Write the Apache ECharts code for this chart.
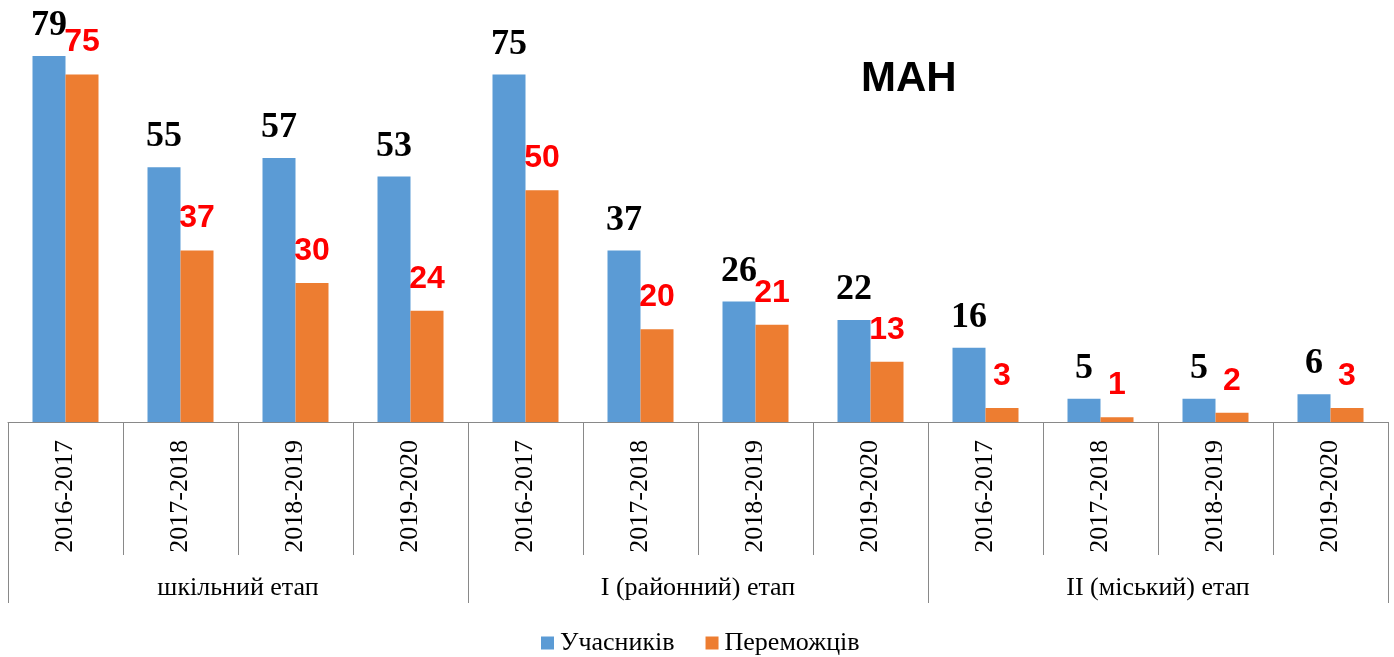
<!DOCTYPE html>
<html>
<head>
<meta charset="utf-8">
<script src="https://cdn.jsdelivr.net/npm/echarts@6/dist/echarts.min.js"></script>
<style>
  html, body { margin: 0; padding: 0; background: #fff; }
  #chart { width: 1394px; height: 657px; }
</style>
</head>
<body>
<div id="chart"></div>
<script>
// роки і етапи
var years = ['2016-2017', '2017-2018', '2018-2019', '2019-2020',
             '2016-2017', '2017-2018', '2018-2019', '2019-2020',
             '2016-2017', '2017-2018', '2018-2019', '2019-2020'];
var stages = ['шкільний етап', 'I (районний) етап', 'II (міський) етап'];
var uchasnykiv = [79, 55, 57, 53, 75, 37, 26, 22, 16, 5, 5, 6];
var peremozhtsiv = [75, 37, 30, 24, 50, 20, 21, 13, 3, 1, 2, 3];

var myChart = echarts.init(document.getElementById('chart'));
var option = {
    backgroundColor: '#fff',
    animation: false,
    title: {
        text: 'МАН',
        left: 861,
        top: 58,
        padding: 0,
        textStyle: {
            fontFamily: 'Liberation Sans',
            fontWeight: 'bold',
            fontSize: 42,
            color: '#000'
        }
    },
    legend: {
        top: 625,
        left: 536,
        itemWidth: 13,
        itemHeight: 13,
        itemGap: 31,
        icon: 'rect',
        data: ['Учасників', 'Переможців'],
        textStyle: {
            fontFamily: 'Liberation Serif',
            fontSize: 26,
            color: '#000',
            padding: [0, 0, 0, 1]
        }
    },
    grid: { left: 8, right: 6, top: 5, bottom: 235 },
    xAxis: [
        {
            type: 'category',
            data: years,
            axisLine: { show: true, lineStyle: { color: '#898989', width: 1 } },
            axisTick: { show: true, interval: 0, length: 133, lineStyle: { color: '#898989', width: 1 } },
            axisLabel: {
                interval: 0,
                rotate: 90,
                margin: 18,
                fontFamily: 'Liberation Serif',
                fontSize: 26,
                color: '#000'
            }
        },
        {
            type: 'category',
            data: stages,
            position: 'bottom',
            offset: 133,
            axisLine: { show: false },
            axisTick: { show: true, interval: 0, length: 48, lineStyle: { color: '#898989', width: 1 } },
            axisLabel: {
                interval: 0,
                margin: 20,
                fontFamily: 'Liberation Serif',
                fontSize: 26,
                color: '#000'
            }
        }
    ],
    yAxis: {
        type: 'value',
        min: 0,
        max: 90,
        show: false,
        splitLine: { show: false }
    },
    series: [
        {
            name: 'Учасників',
            type: 'bar',
            data: uchasnykiv,
            barWidth: 33,
            barGap: '0%',
            itemStyle: { color: '#5B9BD5' },
            label: {
                show: true,
                position: 'top',
                distance: 12,
                fontFamily: 'Liberation Serif',
                fontWeight: 'bold',
                fontSize: 36,
                color: '#000'
            }
        },
        {
            name: 'Переможців',
            type: 'bar',
            data: peremozhtsiv,
            barWidth: 33,
            barGap: '0%',
            itemStyle: { color: '#ED7D31' },
            label: {
                show: true,
                position: 'top',
                distance: 16,
                fontFamily: 'Liberation Sans',
                fontWeight: 'bold',
                fontSize: 32,
                color: '#FF0000'
            }
        }
    ]
};
myChart.setOption(option);
</script>
</body>
</html>
